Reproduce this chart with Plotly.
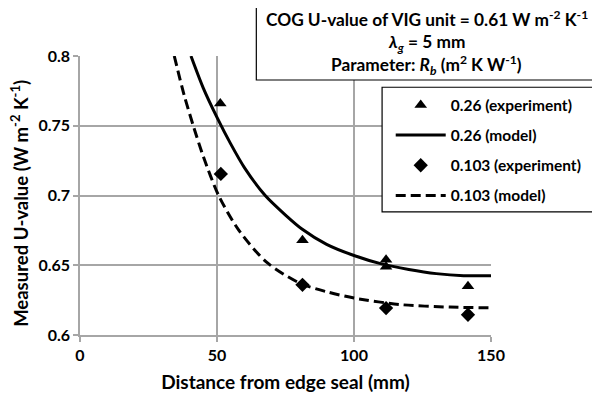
import plotly.graph_objects as go

# experimental data
exp_x = [51.2, 81.2, 111.7, 111.7, 141.6]
exp_026_y = [0.766, 0.668, 0.654, 0.649, 0.635]
exp_0103_x = [51.4, 81.2, 111.7, 141.6]
exp_0103_y = [0.7155, 0.636, 0.6193, 0.6145]

# model curves
mod_026_x = [40.5, 45.0, 50.0, 55.0, 60.0, 67.6, 75.0, 81.0, 90.0, 100.0, 110.0, 120.0, 130.0, 140.0, 150.0]
mod_026_y = [0.800, 0.777, 0.756, 0.737, 0.720, 0.700, 0.686, 0.676, 0.665, 0.657, 0.651, 0.647, 0.644, 0.6425, 0.6425]
mod_0103_x = [34.4, 38.0, 41.5, 45.0, 50.6, 58.0, 68.2, 80.4, 90.0, 100.0, 116.9, 135.0, 150.0]
mod_0103_y = [0.800, 0.772, 0.749, 0.728, 0.700, 0.675, 0.652, 0.637, 0.631, 0.6265, 0.6218, 0.620, 0.6195]

x_ticks = [0, 50, 100, 150]
y_ticks = [0.6, 0.65, 0.7, 0.75, 0.8]
y_tick_labels = ["0.6", "0.65", "0.7", "0.75", "0.8"]

FONT = "Lato"
fig = go.Figure()

fig.add_trace(go.Scatter(x=exp_x, y=exp_026_y, mode="markers", name="0.26 (experiment)",
                         marker=dict(symbol="triangle-up", size=11, color="black"),
                         legendgroup="a"))
fig.add_trace(go.Scatter(x=mod_026_x, y=mod_026_y, mode="lines", name="0.26 (model)",
                         line=dict(color="black", width=3, shape="spline", smoothing=0.8),
                         legendgroup="b"))
fig.add_trace(go.Scatter(x=exp_0103_x, y=exp_0103_y, mode="markers", name="0.103 (experiment)",
                         marker=dict(symbol="diamond", size=11, color="black"),
                         legendgroup="c"))
fig.add_trace(go.Scatter(x=mod_0103_x, y=mod_0103_y, mode="lines", name="0.103 (model)",
                         line=dict(color="black", width=3, dash="10px,5px", shape="spline", smoothing=0.8),
                         legendgroup="d"))

# the page body adds an 8px offset at top-left, so the figure is 8px smaller
grid = "#a6a6a6"
fig.update_layout(
    width=592, height=385,
    margin=dict(l=72, r=109, t=48, b=58),
    paper_bgcolor="white", plot_bgcolor="white",
    font=dict(family=FONT, size=16, color="black"),
    showlegend=True,
    legend=dict(x=0.756, y=0.884, xanchor="left", yanchor="top",
                bgcolor="rgba(0,0,0,0)", borderwidth=0,
                font=dict(family=FONT, size=15.5, color="black", weight="bold"),
                tracegroupgap=7, itemwidth=50),
    xaxis=dict(range=[0, 150], tickvals=x_ticks, showgrid=True, gridcolor=grid, gridwidth=1.5,
               showline=True, linecolor=grid, linewidth=1.5, ticks="outside", ticklen=5,
               tickcolor=grid, tickwidth=1.5, zeroline=False, automargin=False,
               tickfont=dict(family=FONT, size=16, weight="bold"),
               title=dict(text="Distance from edge seal (mm)", standoff=14,
                          font=dict(family=FONT, size=19, weight="bold"))),
    yaxis=dict(range=[0.6, 0.8], tickvals=y_ticks, ticktext=y_tick_labels, showgrid=True,
               gridcolor=grid, gridwidth=1.5, showline=True, linecolor=grid, linewidth=1.5,
               ticks="outside", ticklen=5, tickcolor=grid, tickwidth=1.5, zeroline=False,
               automargin=False,
               tickfont=dict(family=FONT, size=16, weight="bold")),
)

# y-axis title placed as a rotated annotation so it can sit at the far left
fig.add_annotation(text="Measured U-value (W m<sup>-2</sup> K<sup>-1</sup>)", textangle=-90,
                   xref="paper", yref="paper", x=(20 - 80) / 411, y=(335.3 - 204) / 279.3,
                   xanchor="center", yanchor="middle", showarrow=False,
                   font=dict(family=FONT, size=18.5, weight="bold", color="black"))

# legend frame
fig.add_shape(type="rect", xref="paper", yref="paper", x0=0.735, x1=1.2586, y0=0.441, y1=0.888,
              line=dict(color="black", width=1.2), fillcolor="white", layer="above")
# title box
fig.add_shape(type="rect", xref="paper", yref="paper", x0=0.429, x1=1.2586, y0=0.914, y1=1.193,
              line=dict(color="black", width=1.2), fillcolor="white", layer="above")
lines = ["COG U-value of VIG unit = 0.61 W m<sup>-2</sup> K<sup>-1</sup>",
         "<i>λ</i><sub><i>g</i></sub> = 5 mm",
         "Parameter: <i>R</i><sub><i>b</i></sub> (m<sup>2</sup> K W<sup>-1</sup>)"]
ys = [18, 43, 65]
for t, yp in zip(lines, ys):
    fig.add_annotation(text=t, xref="paper", yref="paper", x=0.844, y=(335.3 - yp) / 279.3,
                       xanchor="center", yanchor="middle", showarrow=False,
                       font=dict(family=FONT, size=17.3, weight="bold", color="black"))

fig.write_html("out.html")
